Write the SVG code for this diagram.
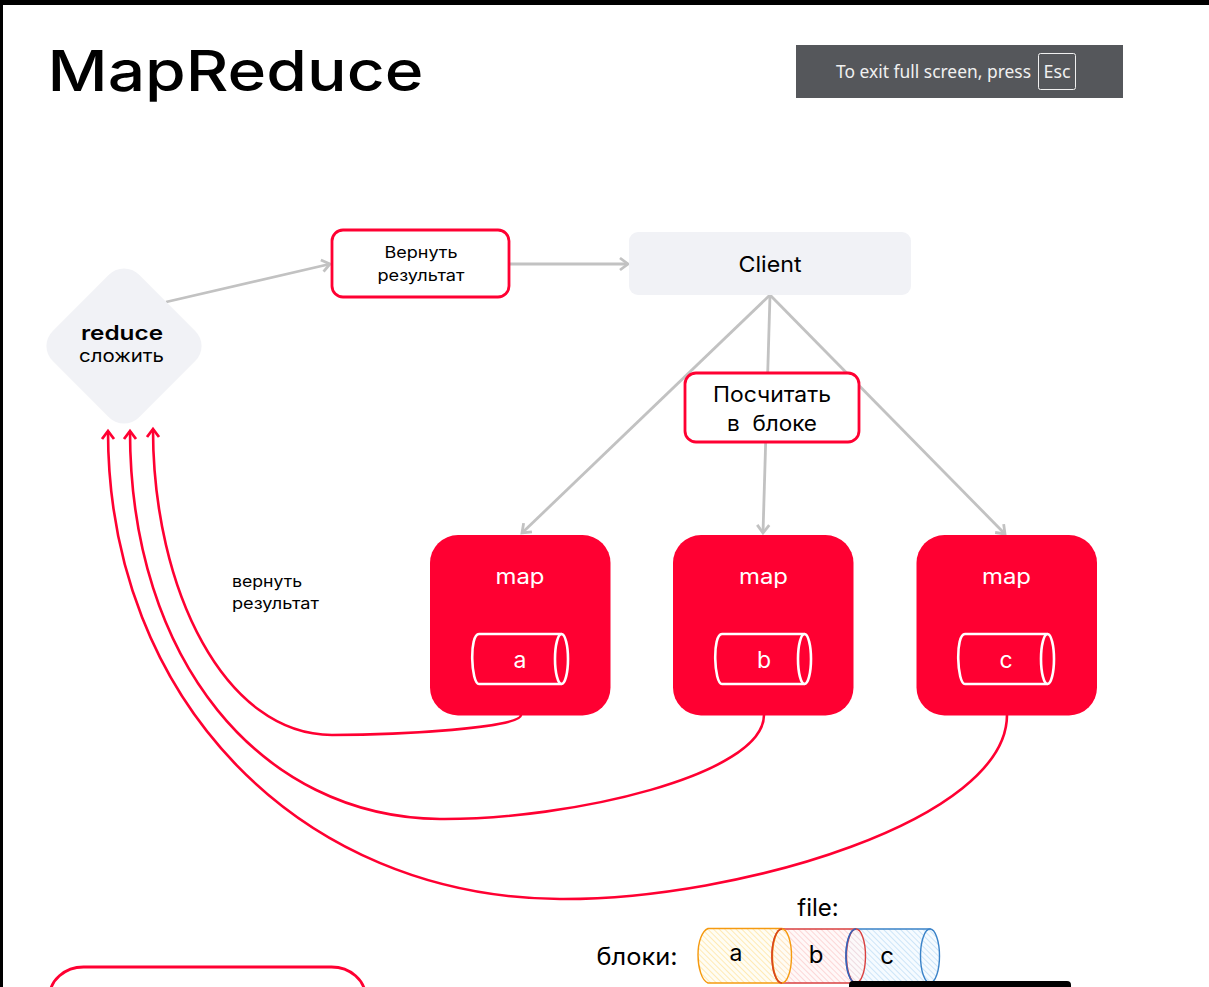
<svg xmlns="http://www.w3.org/2000/svg" width="1209" height="987" viewBox="0 0 1209 987">
<style>
text{font-family:"Inter","Liberation Sans",sans-serif;text-anchor:middle;fill:#000}
.g{fill:none;stroke:#c2c2c2;stroke-width:2.8}
.r{fill:none;stroke:#ff0032;stroke-width:2.6}
.box{fill:#fff;stroke:#ff0032;stroke-width:2.8}
.map{fill:#ff0032}
.cyl{fill:none;stroke:#fff;stroke-width:2.6}
</style>
<defs>
<marker id="ag" markerUnits="userSpaceOnUse" markerWidth="16" markerHeight="16" refX="11" refY="8" orient="auto"><path d="M3 2L11 8L3 14" fill="none" stroke="#c2c2c2" stroke-width="2.8"/></marker>
<marker id="ar" markerUnits="userSpaceOnUse" markerWidth="16" markerHeight="16" refX="11" refY="8" orient="auto"><path d="M3 2L11 8L3 14" fill="none" stroke="#ff0032" stroke-width="2.8"/></marker>
<pattern id="hy" width="4" height="4" patternUnits="userSpaceOnUse" patternTransform="rotate(45)"><rect width="4" height="4" fill="#fffdf4"/><line x1="0" y1="0" x2="4" y2="0" stroke="#ffe29a" stroke-width="1.400"/></pattern>
<pattern id="hr" width="4" height="4" patternUnits="userSpaceOnUse" patternTransform="rotate(45)"><rect width="4" height="4" fill="#fff8f8"/><line x1="0" y1="0" x2="4" y2="0" stroke="#fbc8c8" stroke-width="1.400"/></pattern>
<pattern id="hb" width="4" height="4" patternUnits="userSpaceOnUse" patternTransform="rotate(45)"><rect width="4" height="4" fill="#f6fbff"/><line x1="0" y1="0" x2="4" y2="0" stroke="#bcdcf6" stroke-width="1.400"/></pattern>
</defs>
<rect width="1209" height="987" fill="#fff"/>
<rect width="1209" height="5" fill="#000"/>
<rect width="3" height="987" fill="#000"/>

<text id="title" x="235.500" y="91" font-size="56" font-weight="500" textLength="376" lengthAdjust="spacingAndGlyphs">MapReduce</text>

<g id="fullscreen-hint">
<rect x="796" y="45" width="327" height="53" fill="#55575b"/>
<text x="933.500" y="78" font-size="17.500" style="font-family:'Noto Sans','Open Sans',sans-serif;fill:#f0f0f0" textLength="195" lengthAdjust="spacingAndGlyphs">To exit full screen, press</text>
<rect x="1038.500" y="53.500" width="37" height="36" rx="2" fill="none" stroke="#f0f0f0" stroke-width="1"/>
<text x="1057" y="78" font-size="17.500" style="font-family:'Noto Sans','Open Sans',sans-serif;fill:#f0f0f0" textLength="27" lengthAdjust="spacingAndGlyphs">Esc</text>
</g>

<g id="connectors">
<path class="g" d="M166 302L330 264" marker-end="url(#ag)"/>
<path class="g" d="M509 264H628" marker-end="url(#ag)"/>
<path class="g" d="M770 295L522 533" marker-end="url(#ag)"/>
<path class="g" d="M770 295L763 533" marker-end="url(#ag)"/>
<path class="g" d="M770 295L1005 534" marker-end="url(#ag)"/>
<path class="r" d="M521 715C521 728 400 735 332 735C225 735 153 590 153 429" marker-end="url(#ar)"/>
<path class="r" d="M764 715C764 775 570 820 440 819C260 817 130 660 130 431" marker-end="url(#ar)"/>
<path class="r" d="M1007 715C1007 820 740 900 560 899C300 897 108 700 108 431" marker-end="url(#ar)"/>
</g>

<g id="reduce">
<rect x="63" y="285" width="122" height="122" rx="21" fill="#f1f2f6" transform="rotate(45 124 346)"/>
<text x="122" y="340" font-size="19.500" font-weight="600" textLength="82" lengthAdjust="spacingAndGlyphs">reduce</text>
<text x="121.500" y="362" font-size="17.500" textLength="85" lengthAdjust="spacingAndGlyphs">сложить</text>
</g>

<g id="return-result">
<rect class="box" x="332" y="230" width="177" height="67" rx="11"/>
<text x="421" y="258" font-size="16" textLength="73" lengthAdjust="spacingAndGlyphs">Вернуть</text>
<text x="421" y="281" font-size="16" textLength="87" lengthAdjust="spacingAndGlyphs">результат</text>
</g>

<g id="client">
<rect x="629" y="232" width="282" height="63" rx="9" fill="#f1f2f6"/>
<text x="770" y="272" font-size="22" textLength="63" lengthAdjust="spacingAndGlyphs">Client</text>
</g>

<g id="count-block">
<rect class="box" x="685" y="373" width="174" height="69" rx="11"/>
<text x="772" y="402" font-size="21" textLength="118" lengthAdjust="spacingAndGlyphs">Посчитать</text>
<text x="772" y="431" font-size="21" textLength="90" lengthAdjust="spacingAndGlyphs" xml:space="preserve">в  блоке</text>
</g>

<g id="label-return">
<text x="232" y="587" font-size="16" textLength="70" lengthAdjust="spacingAndGlyphs" style="text-anchor:start">вернуть</text>
<text x="232" y="609" font-size="16" textLength="87" lengthAdjust="spacingAndGlyphs" style="text-anchor:start">результат</text>
</g>

<g id="map-a">
<rect class="map" x="430" y="535" width="180.500" height="180.500" rx="28"/>
<text x="520" y="584" font-size="21" textLength="49" lengthAdjust="spacingAndGlyphs" style="fill:#fff">map</text>
<path class="cyl" d="M561.500 634H479C469 634 471 684 479 684H561.500"/>
<ellipse class="cyl" cx="561.500" cy="659" rx="6.500" ry="25"/>
<text x="520" y="668" font-size="23" style="fill:#fff">a</text>
</g>
<g id="map-b">
<rect class="map" x="673" y="535" width="180.500" height="180.500" rx="28"/>
<text x="763.500" y="584" font-size="21" textLength="49" lengthAdjust="spacingAndGlyphs" style="fill:#fff">map</text>
<path class="cyl" d="M804.500 634H722C712 634 714 684 722 684H804.500"/>
<ellipse class="cyl" cx="804.500" cy="659" rx="6.500" ry="25"/>
<text x="764" y="668" font-size="23" style="fill:#fff">b</text>
</g>
<g id="map-c">
<rect class="map" x="916.500" y="535" width="180.500" height="180.500" rx="28"/>
<text x="1006.500" y="584" font-size="21" textLength="49" lengthAdjust="spacingAndGlyphs" style="fill:#fff">map</text>
<path class="cyl" d="M1047.500 634H965C955 634 957 684 965 684H1047.500"/>
<ellipse class="cyl" cx="1047.500" cy="659" rx="6.500" ry="25"/>
<text x="1006" y="668" font-size="23" style="fill:#fff">c</text>
</g>

<g id="file">
<text x="818" y="916" font-size="24">file:</text>
<text x="637" y="965" font-size="24" textLength="81" lengthAdjust="spacingAndGlyphs">блоки:</text>
<g id="block-a">
<path d="M708 928.500H782C790 930 792 945 791 957C790 972 786 983 782 983H708C702 981 698 968 698 955C698 942 702 931 708 928.500Z" fill="url(#hy)" stroke="#f59a10" stroke-width="1.400"/>
</g>
<g id="block-b">
<path d="M782 929H856V983H782C776 983 772 970 772 956C772 942 776 929 782 929Z" fill="url(#hr)" stroke="#d94040" stroke-width="1.400"/>
<ellipse cx="782" cy="956" rx="9.500" ry="27" fill="url(#hy)" fill-opacity=".7" stroke="#f59a10" stroke-width="1.400"/>
<path d="M782 929C776 929 772 942 772 956C772 970 776 983 782 983" fill="none" stroke="#d9481c" stroke-width="1.600"/>
</g>
<g id="block-c">
<path d="M856 929H930V983H856C850 983 846 970 846 956C846 942 850 929 856 929Z" fill="url(#hb)" stroke="#3a82c8" stroke-width="1.400"/>
<ellipse cx="856" cy="956" rx="9.500" ry="27" fill="url(#hr)" fill-opacity=".7" stroke="#d94040" stroke-width="1.400"/>
<path d="M856 929C850 929 846 942 846 956C846 970 850 983 856 983" fill="none" stroke="#3a62b8" stroke-width="1.600"/>
<ellipse cx="930" cy="956" rx="9.500" ry="27" fill="url(#hb)" stroke="#3a82c8" stroke-width="1.400"/>
</g>
<text x="736" y="961" font-size="23">a</text>
<text x="816" y="963" font-size="24">b</text>
<text x="887" y="964" font-size="24">c</text>
</g>

<rect id="partial-box" x="49.500" y="967" width="316" height="60" rx="34" class="box" style="fill:none"/>
<rect id="bottom-bar" x="849" y="981" width="222" height="12" rx="4" fill="#000"/>
</svg>
